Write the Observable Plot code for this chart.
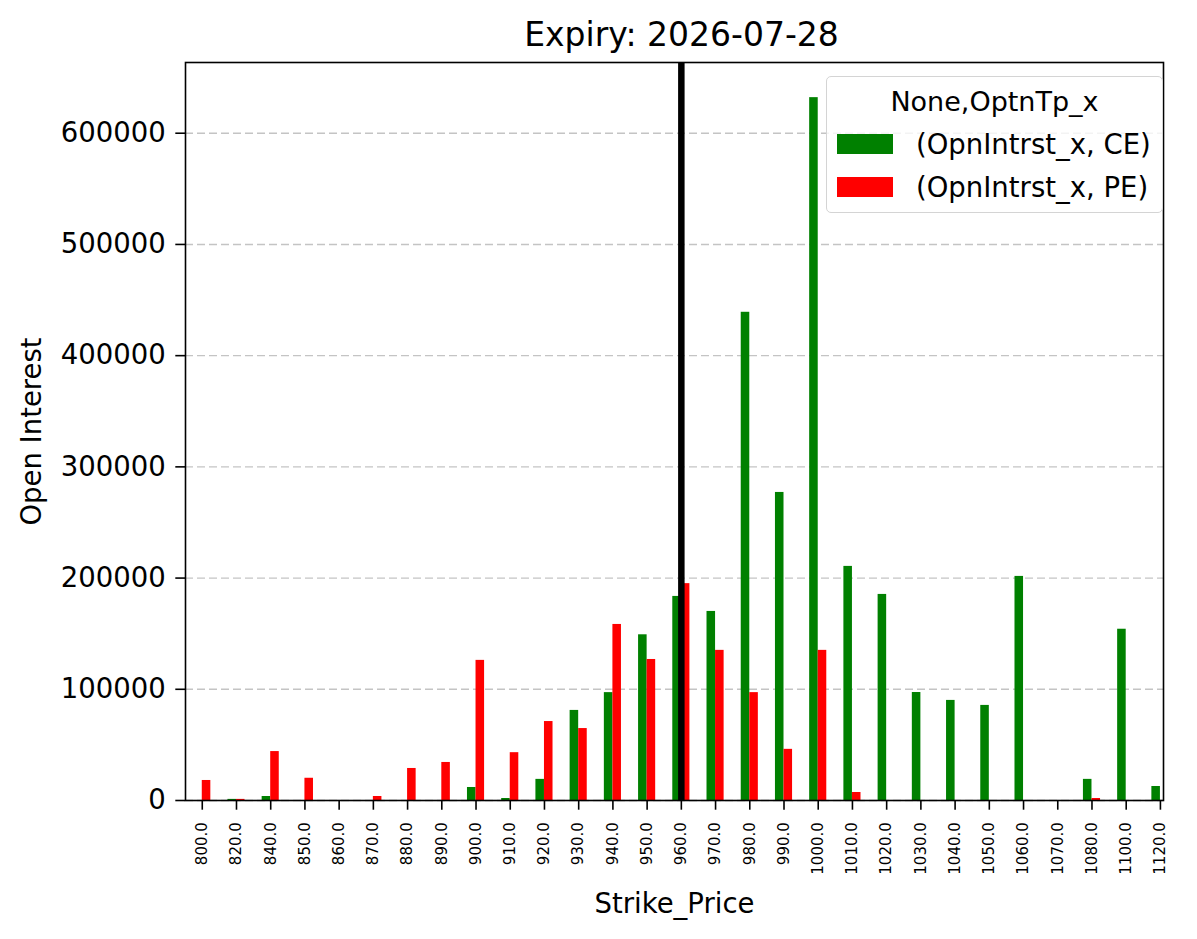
<!DOCTYPE html>
<html>
<head>
<meta charset="utf-8">
<script src="https://cdn.jsdelivr.net/npm/d3@7"></script>
<script src="https://cdn.jsdelivr.net/npm/@observablehq/plot@0.6"></script>
<style>
  html, body { margin: 0; padding: 0; background: #fff; }
  #wrap { position: relative; width: 1197px; height: 939px; font-family: "DejaVu Sans", sans-serif; color: #000; }
  #legend {
    position: absolute; left: 826px; top: 76px; width: 335px; height: 135px;
    border: 1.6px solid #d4d4d4; border-radius: 5px; background: rgba(255,255,255,0.8);
  }
  #legend .ttl { position: absolute; left: 0; right: 0; top: 8px; text-align: center; font-size: 27px; line-height: 34px; }
  #legend .row { position: absolute; left: 10px; height: 32px; display: flex; align-items: center; }
  #legend .sw { width: 56px; height: 20px; margin-right: 23px; }
  #legend .lab { font-size: 27.5px; white-space: nowrap; }
</style>
</head>
<body>
<div id="wrap"></div>
<script>
// ---- data ----
const strikes = ["800.0","820.0","840.0","850.0","860.0","870.0","880.0","890.0","900.0","910.0",
  "920.0","930.0","940.0","950.0","960.0","970.0","980.0","990.0","1000.0","1010.0",
  "1020.0","1030.0","1040.0","1050.0","1060.0","1070.0","1080.0","1100.0","1120.0"];
const ceOI = [0, 1000, 3600, 0, 0, 0, 0, 0, 11700, 1800,
  19000, 81000, 97000, 149000, 183500, 170000, 439000, 277000, 632000, 210500,
  185300, 97100, 90000, 85500, 201500, 0, 19000, 154000, 12600];
const peOI = [18000, 1000, 44000, 20000, 0, 3600, 28800, 34200, 126000, 43000,
  71000, 64700, 158300, 126800, 195000, 135000, 97000, 46000, 135000, 7200,
  0, 0, 0, 0, 0, 0, 1800, 0, 0];
const seriesNames = ["(OpnIntrst_x, CE)", "(OpnIntrst_x, PE)"];
const seriesColors = ["green", "red"];
const yTicks = [0, 100000, 200000, 300000, 400000, 500000, 600000];
const spotStrike = "960.0";
const titleText = "Expiry: 2026-07-28";
const xLabel = "Strike_Price";
const yLabel = "Open Interest";
const legendTitle = "None,OptnTp_x";

const table = strikes.map((s, i) => ({i, strike: s, ce: ceOI[i], pe: peOI[i]}));
const spotIndex = strikes.indexOf(spotStrike);
const barW = 0.25;

const chart = Plot.plot({
  width: 1197,
  height: 939,
  marginLeft: 185,
  marginRight: 34,
  marginTop: 62,
  marginBottom: 139,
  style: {fontFamily: "DejaVu Sans, sans-serif", color: "black", background: "white", overflow: "visible"},
  x: {type: "linear", domain: [-0.49, strikes.length - 1 + 0.09]},
  y: {domain: [0, 663600]},
  marks: [
    Plot.gridY(yTicks, {stroke: "#b0b0b0", strokeOpacity: 0.75, strokeWidth: 1.4, strokeDasharray: "8,4"}),
    Plot.rect(table, {x1: d => d.i - barW, x2: d => d.i, y1: 0, y2: "ce", fill: seriesColors[0]}),
    Plot.rect(table, {x1: d => d.i, x2: d => d.i + barW, y1: 0, y2: "pe", fill: seriesColors[1]}),
    Plot.ruleX([spotIndex], {stroke: "black", strokeWidth: 6.5}),
    Plot.axisY({ticks: yTicks, tickFormat: d => String(d), fontSize: 27.5, tickSize: 9.7, tickPadding: 10, strokeWidth: 1.6, label: null}),
    Plot.axisX({ticks: d3.range(strikes.length), tickFormat: i => strikes[i], tickRotate: -90, fontSize: 15, tickSize: 9.7, tickPadding: 12, strokeWidth: 1.6, label: null}),
    Plot.frame({stroke: "black", strokeWidth: 1.6}),
    Plot.text([titleText], {frameAnchor: "top", lineAnchor: "middle", textAnchor: "middle", dx: 7, dy: -26.6, fontSize: 33, text: d => d}),
    Plot.text([xLabel], {frameAnchor: "bottom", lineAnchor: "middle", textAnchor: "middle", dy: 104, fontSize: 27.5, text: d => d}),
    Plot.text([yLabel], {frameAnchor: "left", lineAnchor: "middle", textAnchor: "middle", dx: -153, rotate: -90, fontSize: 27.5, text: d => d})
  ]
});

const wrap = document.getElementById("wrap");
wrap.appendChild(chart);

// legend (drawn from the series arrays)
const leg = document.createElement("div");
leg.id = "legend";
const t = document.createElement("div");
t.className = "ttl";
t.textContent = legendTitle;
leg.appendChild(t);
seriesNames.forEach((name, k) => {
  const row = document.createElement("div");
  row.className = "row";
  row.style.top = (51 + k * 43) + "px";
  const sw = document.createElement("div");
  sw.className = "sw";
  sw.style.background = seriesColors[k];
  const lab = document.createElement("div");
  lab.className = "lab";
  lab.textContent = name;
  row.appendChild(sw);
  row.appendChild(lab);
  leg.appendChild(row);
});
wrap.appendChild(leg);
</script>
</body>
</html>
